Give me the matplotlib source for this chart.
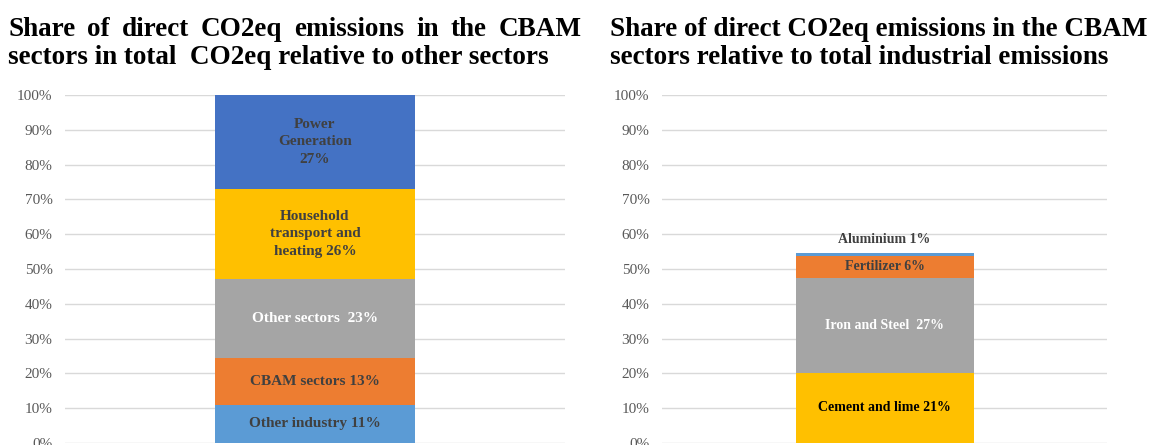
import matplotlib.pyplot as plt

plt.rcParams['font.family'] = ['Liberation Serif', 'DejaVu Serif']

# left chart: share in total CO2eq (bottom to top)
left_labels = ['Other industry 11%', 'CBAM sectors 13%', 'Other sectors  23%',
               'Household\ntransport and\nheating 26%', 'Power\nGeneration\n27%']
left_values = [11.0, 13.4, 22.8, 25.8, 27.0]
left_colors = ['#5B9BD5', '#ED7D31', '#A5A5A5', '#FFC000', '#4472C4']
left_text_colors = ['#404040', '#404040', 'white', '#404040', '#404040']

# right chart: share in industrial emissions (bottom to top)
right_labels = ['Cement and lime 21%', 'Iron and Steel  27%', 'Fertilizer 6%', 'Aluminium 1%']
right_values = [20.2, 27.3, 6.2, 0.8]
right_colors = ['#FFC000', '#A5A5A5', '#ED7D31', '#5B9BD5']
right_text_colors = ['black', 'white', '#404040', '#404040']

yticks = list(range(0, 101, 10))
ytick_labels = ['%d%%' % t for t in yticks]

left_title = ['Share of direct CO2eq emissions in the CBAM',
              'sectors in total  CO2eq relative to other sectors']
right_title = ['Share of direct CO2eq emissions in the CBAM',
               'sectors relative to total industrial emissions']

W, H = 1150, 445
fig = plt.figure(figsize=(W / 100, H / 100), dpi=100)


def px_axes(x0, y_top, x1, y_bot):
    return fig.add_axes([x0 / W, (H - y_bot) / H, (x1 - x0) / W, (y_bot - y_top) / H])


def draw_stack(ax, values, colors, labels, text_colors, fontsize, above=()):
    bottom = 0
    for i, v in enumerate(values):
        ax.bar(0, v, width=0.4, bottom=bottom, color=colors[i], zorder=2)
        if i in above:
            ax.annotate(labels[i], (0, bottom + v), xytext=(0, 10), textcoords='offset points',
                        ha='center', va='center', fontsize=fontsize, fontweight='bold',
                        color=text_colors[i])
        else:
            ax.text(0, bottom + v / 2, labels[i], ha='center', va='center',
                    fontsize=fontsize, fontweight='bold', color=text_colors[i],
                    linespacing=1.45)
        bottom += v

    ax.set_xlim(-0.5, 0.5)
    ax.set_ylim(0, 100)
    ax.set_yticks(yticks)
    ax.set_yticklabels(ytick_labels)
    ax.set_xticks([])
    ax.tick_params(axis='y', length=0, pad=9, labelsize=11, labelcolor='#595959')
    ax.grid(axis='y', color='#D9D9D9', lw=1, zorder=0)
    ax.set_axisbelow(True)
    for s in ax.spines.values():
        s.set_visible(False)


def justify_line(text, x0, x1, y, **kw):
    # spread the words over x0..x1 (pixels), like a justified paragraph line
    r = fig.canvas.get_renderer()
    words = text.split()
    objs = [fig.text(0, 1 - y / H, w, va='baseline', **kw) for w in words]
    widths = [o.get_window_extent(r).width for o in objs]
    gap = (x1 - x0 - sum(widths)) / (len(words) - 1)
    x = x0
    for o, w in zip(objs, widths):
        o.set_x(x / W)
        x += w + gap


title_kw = dict(fontsize=19.5, fontweight='bold', color='black')
justify_line(left_title[0], 8, 582, 36, **title_kw)
fig.text(8 / W, 1 - 64 / H, left_title[1], va='baseline', **title_kw)
fig.text(610 / W, 1 - 36 / H, right_title[0], va='baseline', **title_kw)
fig.text(610 / W, 1 - 64 / H, right_title[1], va='baseline', **title_kw)

ax1 = px_axes(65, 95, 565, 443)
draw_stack(ax1, left_values, left_colors, left_labels, left_text_colors, 11)

ax2 = px_axes(662, 95, 1107, 443)
draw_stack(ax2, right_values, right_colors, right_labels, right_text_colors, 10, above=(3,))

fig.savefig('out.png', dpi=100)
